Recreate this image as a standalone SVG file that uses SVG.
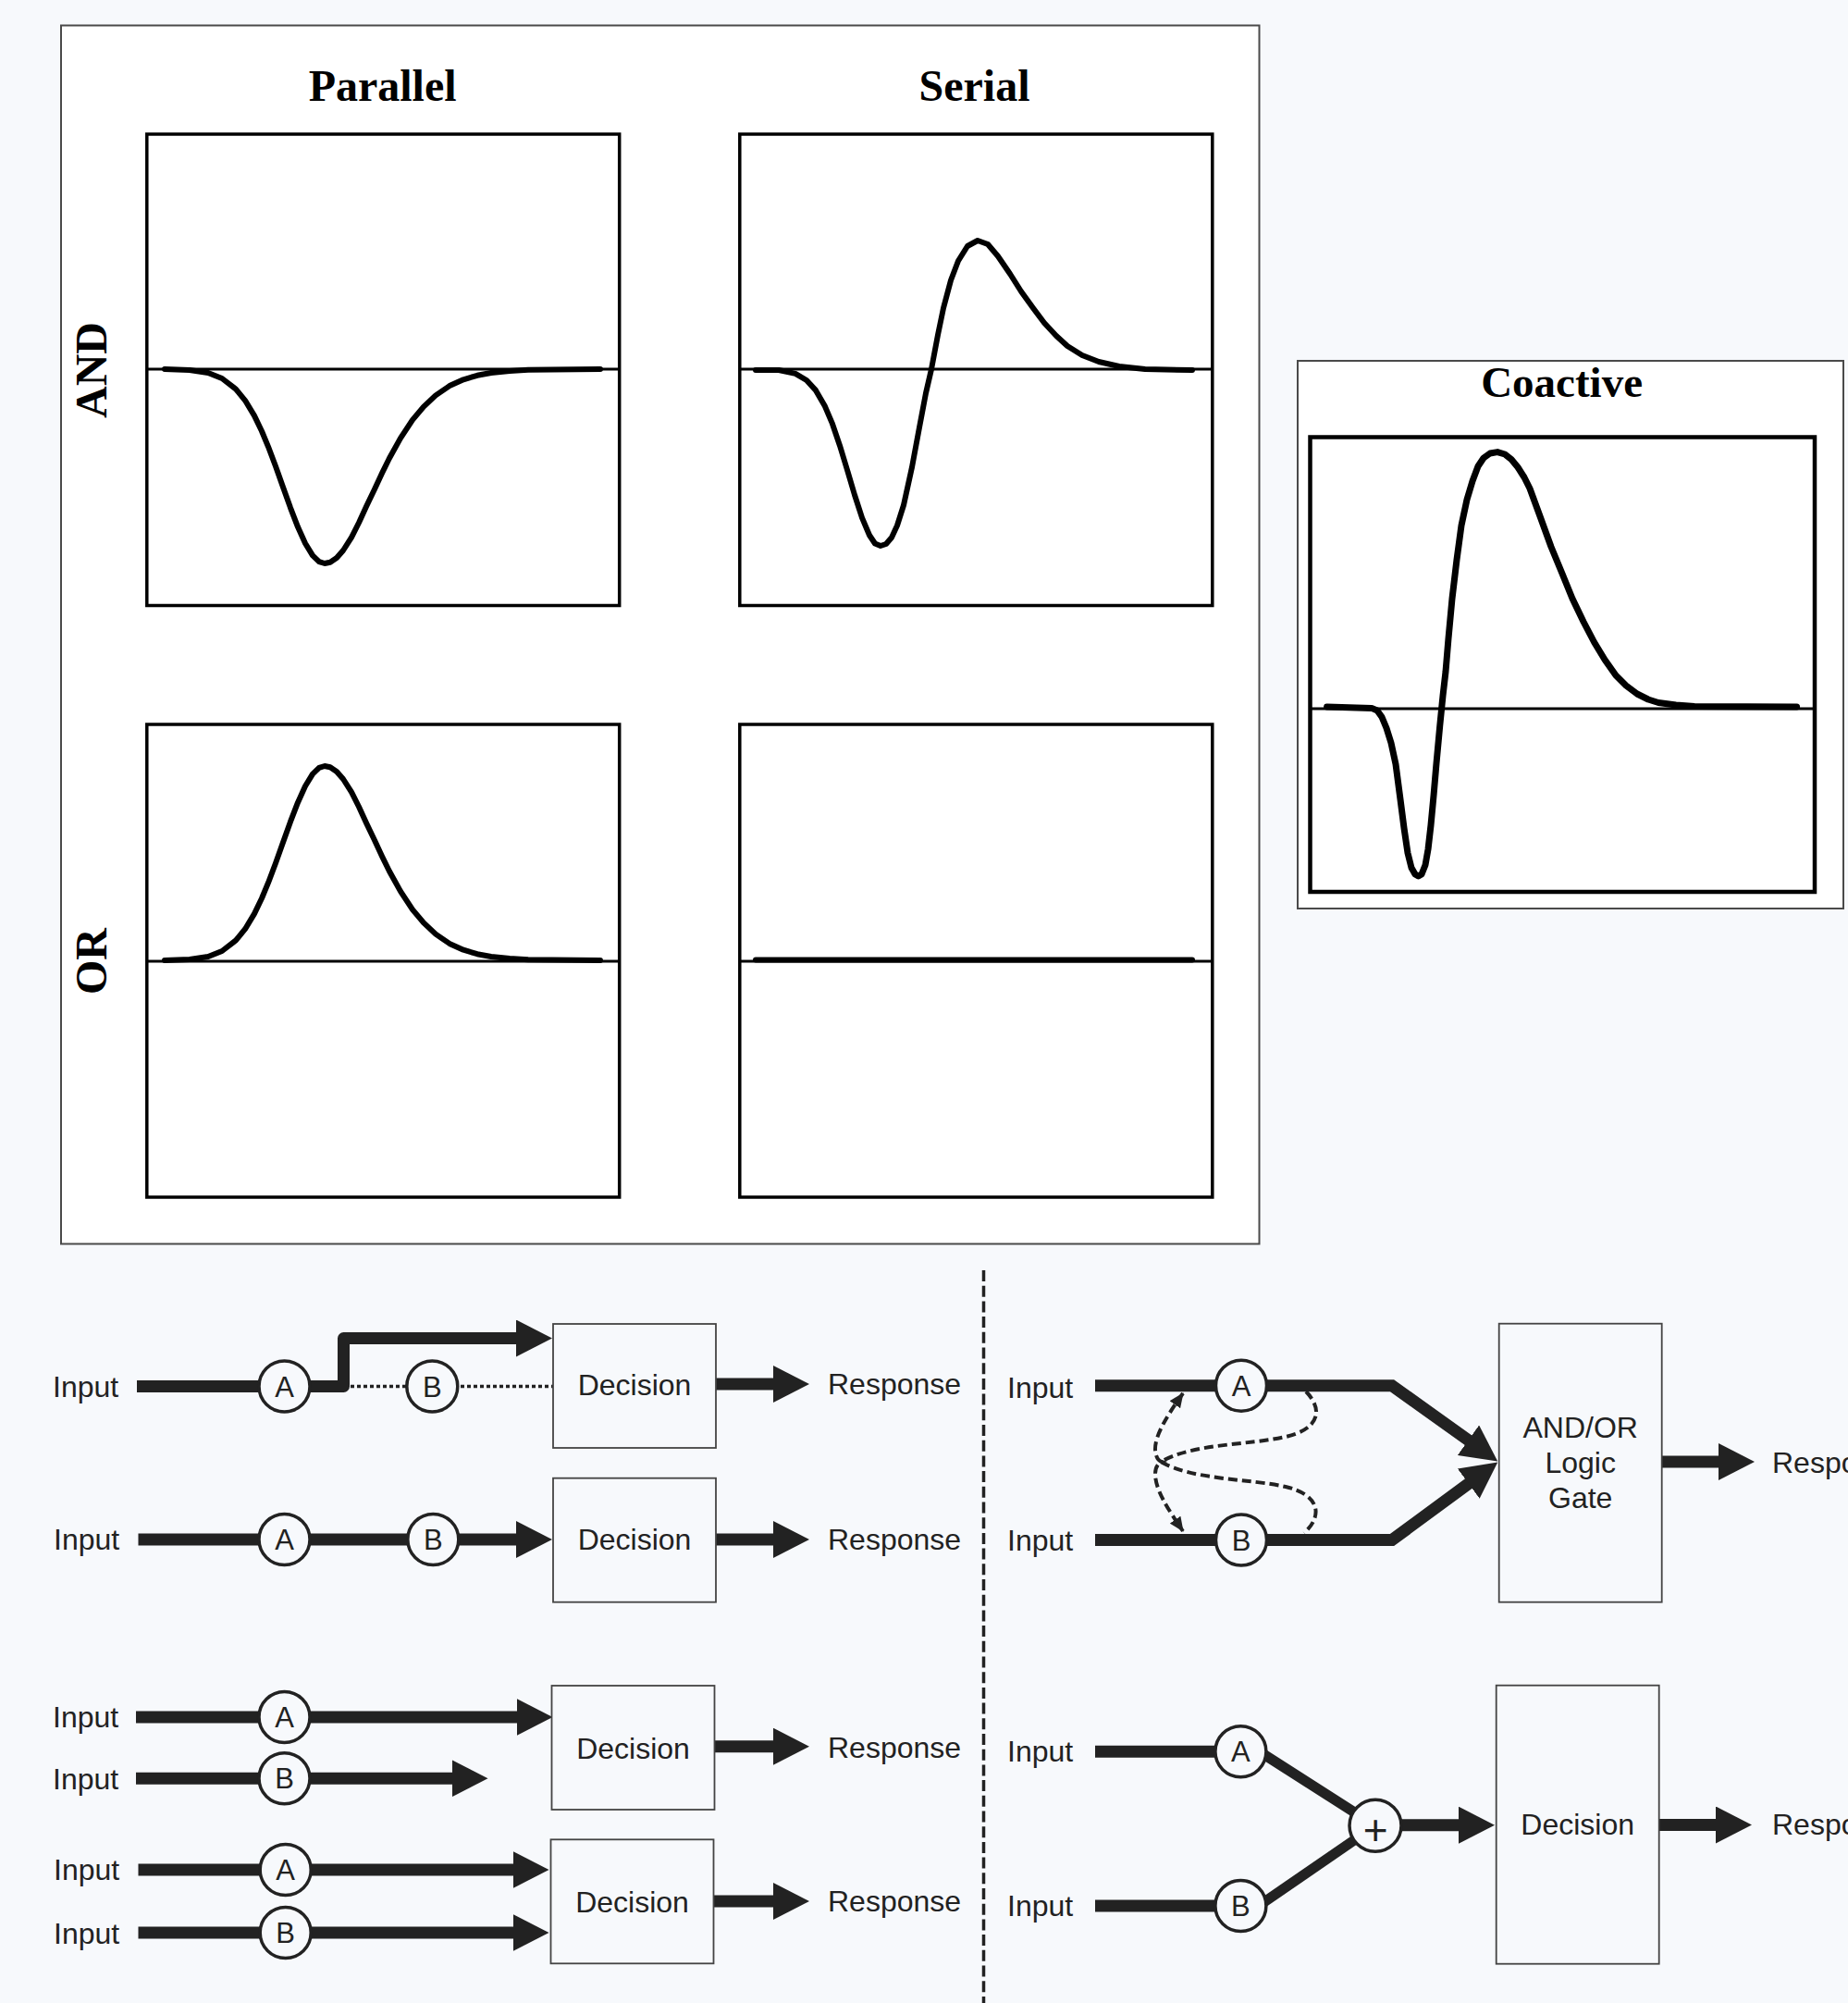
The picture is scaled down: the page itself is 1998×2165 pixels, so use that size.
<svg xmlns="http://www.w3.org/2000/svg" width="1998" height="2165" viewBox="0 0 1998 2165">
<style>
.bg{fill:#f7f9fc}
.frame{fill:#fff;stroke:#4a4a4a;stroke-width:2}
.plot{fill:#fff;stroke:#000;stroke-width:3.5}
.zero{stroke:#000;stroke-width:2.8;fill:none}
.curve{fill:none;stroke:#000;stroke-width:6;stroke-linejoin:round;stroke-linecap:round}
.ttl{font-family:"Liberation Serif","Times New Roman",serif;font-weight:bold;font-size:48px;fill:#000}
.thick{fill:none;stroke:#222;stroke-width:13}
.diag{fill:none;stroke:#222;stroke-width:11}
.dotted{fill:none;stroke:#222;stroke-width:3.5;stroke-dasharray:4 3}
.dash{fill:none;stroke:#222;stroke-width:4;stroke-dasharray:10 5}
.sep{fill:none;stroke:#222;stroke-width:3.5;stroke-dasharray:12 4.7}
.box{fill:#f7f9fc;stroke:#444;stroke-width:1.8}
.node{fill:#f7f9fc;stroke:#222;stroke-width:3.5}
.lbl{font-family:"Liberation Sans",Arial,sans-serif;font-size:32px;fill:#222}
.let{font-family:"Liberation Sans",Arial,sans-serif;font-size:31px;fill:#222;text-anchor:middle}
.mid{text-anchor:middle}
</style>
<defs>
<marker id="arrow" viewBox="0 0 39 40" refX="1" refY="20" markerWidth="39" markerHeight="40" markerUnits="userSpaceOnUse" orient="auto">
<path d="M0,0 L39,20 L0,40 Z" fill="#222"/>
</marker>
<marker id="small" viewBox="0 0 16 14" refX="15" refY="7" markerWidth="16" markerHeight="14" markerUnits="userSpaceOnUse" orient="auto-start-reverse">
<path d="M0,0 L16,7 L0,14 Z" fill="#222"/>
</marker>
<path id="gaussP" class="curve" d="M178,399 L205,400 L225,403 L240,409 L255,420.6 L265,432.8 L275,449.4 L283,466 L290,482.8 L298,504 L306,526.4 L314,548.8 L322,569.6 L330,587.3 L338,600.4 L345,607.1 L351,609 L357,607.7 L364,603 L371,595 L380,580.9 L388,565 L396,547.5 L405,528.7 L413,511.5 L421,495.2 L433,473.6 L446,453.9 L458,439.6 L471,427.4 L486,417.1 L501,410.3 L516,405.8 L531,403 L551,400.9 L571,399.7 L649,399"/>
</defs>
<rect x="0" y="0" width="1998" height="2165" class="bg"/>

<g id="panel-main">
<rect x="66" y="27.5" width="1295.5" height="1317" class="frame"/>
<text x="413.6" y="109" class="ttl mid">Parallel</text>
<text x="1053.5" y="109" class="ttl mid">Serial</text>
<text transform="translate(115,400) rotate(-90)" class="ttl mid">AND</text>
<text transform="translate(115,1039) rotate(-90)" class="ttl mid">OR</text>
</g>

<g id="plot-parallel-and">
<rect x="158.8" y="145" width="510.9" height="509.5" class="plot"/>
<line x1="158.8" y1="399" x2="669.7" y2="399" class="zero"/>
<use href="#gaussP"/>
</g>

<g id="plot-serial-and">
<rect x="799.8" y="145" width="511" height="509.5" class="plot"/>
<line x1="799.8" y1="399" x2="1310.8" y2="399" class="zero"/>
<path class="curve" d="M817,400 L842,400 L860,403.9 L872,411 L882,421.9 L892,439.3 L900,458.2 L908,481.7 L916,508 L924,535 L932,559.7 L940,578.5 L946,587.5 L952,590 L958,588 L964,581 L970,568 L977,546 L986,505 L994,462 L1001,425 L1007,399 L1014,362 L1020,333 L1028,303 L1036,282 L1046,266 L1057,260 L1068,264 L1079,277 L1092,296 L1104,315 L1117,333 L1129,349 L1142,363 L1154,374 L1170,384 L1188,391 L1210,396 L1238,399 L1289,400"/>
</g>

<g id="plot-parallel-or">
<rect x="158.8" y="783" width="510.9" height="511" class="plot"/>
<line x1="158.8" y1="1039" x2="669.7" y2="1039" class="zero"/>
<use href="#gaussP" transform="translate(0,1437) scale(1,-1)"/>
</g>

<g id="plot-serial-or">
<rect x="799.8" y="783" width="511" height="511" class="plot"/>
<line x1="799.8" y1="1039" x2="1310.8" y2="1039" class="zero"/>
<path class="curve" d="M817,1037.5 L1289,1037.5"/>
</g>

<g id="panel-coactive">
<rect x="1403" y="390" width="590" height="592" class="frame"/>
<text x="1688.6" y="428.5" class="ttl mid" style="font-size:47px">Coactive</text>
<rect x="1416.5" y="472.5" width="545.5" height="491.5" class="plot" style="stroke-width:4.5"/>
<line x1="1416.5" y1="766" x2="1962" y2="766" class="zero"/>
<path class="curve" style="stroke-width:7" d="M1434.6,764 L1483,765.4 L1489,768 L1494,775 L1499,787 L1504,803 L1509,826 L1514,864 L1518,895 L1522,922 L1526,938 L1530,945 L1533.5,947 L1537,945 L1541,935 L1544,918 L1547,892 L1550,860 L1553,825 L1556.7,785 L1560,752 L1563,726 L1566,690 L1570,647 L1575,605 L1580,568 L1586,540 L1592,520 L1598,504 L1604,495 L1611,490 L1619,488.6 L1627,491 L1634,496.5 L1641,505 L1648,516 L1654,528 L1665,558 L1677,591 L1689,620 L1700,647 L1712,672 L1723.5,694 L1735,713 L1747,730 L1758,741 L1770,750 L1782,756 L1793,759.5 L1812,762 L1832,763.4 L1942.6,764"/>
</g>

<g id="connectors">
<path class="sep" d="M1063.5,1373 V2165"/>
<path class="thick" style="stroke-linejoin:round" d="M148,1498.5 H371.5 V1446.5 H559" marker-end="url(#arrow)"/>
<path class="dotted" d="M379,1498.5 H598"/>
<path class="thick" d="M774,1496 H837" marker-end="url(#arrow)"/>
<path class="thick" d="M149.5,1664 H559" marker-end="url(#arrow)"/>
<path class="thick" d="M774,1664 H837" marker-end="url(#arrow)"/>
<path class="thick" d="M147,1856 H559.5" marker-end="url(#arrow)"/>
<path class="thick" d="M147,1922.3 H489.5" marker-end="url(#arrow)"/>
<path class="thick" d="M772.5,1887.7 H837" marker-end="url(#arrow)"/>
<path class="thick" d="M149.5,2021 H555.5" marker-end="url(#arrow)"/>
<path class="thick" d="M149.5,2089 H555.5" marker-end="url(#arrow)"/>
<path class="thick" d="M772,2055 H837" marker-end="url(#arrow)"/>
<path class="thick" d="M1184,1497.7 H1505 L1588.3,1557.3" marker-end="url(#arrow)"/>
<path class="thick" d="M1184,1664.5 H1505 L1588.6,1603.1" marker-end="url(#arrow)"/>
<path class="thick" d="M1797,1580 H1859" marker-end="url(#arrow)"/>
<path class="dash" d="M1279,1506 C1262,1530 1248,1552 1249,1568 C1250,1576 1253,1579 1256,1580 C1253,1581 1249,1585 1249,1593 C1249,1610 1262,1630 1279,1655" marker-start="url(#small)" marker-end="url(#small)"/>
<path class="dash" d="M1412,1504 C1432,1525 1425,1545 1390,1553 C1350,1562 1290,1560 1255,1580 C1290,1600 1350,1598 1390,1607 C1425,1615 1432,1637 1410,1657"/>
<path class="thick" d="M1184,1893.3 H1341"/>
<path class="thick" d="M1184,2060 H1341"/>
<path class="diag" d="M1355,1889 L1487,1973.3"/>
<path class="diag" d="M1355,2064 L1487,1973.3"/>
<path class="thick" d="M1515,1972.7 H1578" marker-end="url(#arrow)"/>
<path class="thick" d="M1793.7,1972.5 H1856" marker-end="url(#arrow)"/>
</g>

<g id="labels">
<text x="57" y="1510" class="lbl">Input</text>
<text x="58" y="1675" class="lbl">Input</text>
<text x="57" y="1867" class="lbl">Input</text>
<text x="57" y="1934" class="lbl">Input</text>
<text x="58" y="2032" class="lbl">Input</text>
<text x="58" y="2100.5" class="lbl">Input</text>
<text x="895" y="1507" class="lbl">Response</text>
<text x="895" y="1675" class="lbl">Response</text>
<text x="895" y="1899.5" class="lbl">Response</text>
<text x="895" y="2066" class="lbl">Response</text>
<text x="1089" y="1510.7" class="lbl">Input</text>
<text x="1089" y="1676" class="lbl">Input</text>
<text x="1089" y="1904" class="lbl">Input</text>
<text x="1089" y="2070.7" class="lbl">Input</text>
<text x="1916" y="1591.7" class="lbl">Response</text>
<text x="1916" y="1983" class="lbl">Response</text>
</g>

<g id="node-L1-A"><circle cx="307.5" cy="1498.5" r="27.5" class="node"/><text x="307.5" y="1509.5" class="let">A</text></g>
<g id="node-L1-B"><circle cx="467.3" cy="1498.5" r="27.5" class="node"/><text x="467.3" y="1509.5" class="let">B</text></g>
<g id="node-L1-dec"><rect x="598" y="1431" width="176" height="134" class="box"/><text x="686" y="1508" class="lbl mid">Decision</text></g>

<g id="node-L2-A"><circle cx="307.5" cy="1664" r="27.5" class="node"/><text x="307.5" y="1675" class="let">A</text></g>
<g id="node-L2-B"><circle cx="468.3" cy="1664" r="27.5" class="node"/><text x="468.3" y="1675" class="let">B</text></g>
<g id="node-L2-dec"><rect x="598" y="1597.7" width="176" height="134" class="box"/><text x="686" y="1675" class="lbl mid">Decision</text></g>

<g id="node-L3-A"><circle cx="307.5" cy="1856" r="27.5" class="node"/><text x="307.5" y="1867" class="let">A</text></g>
<g id="node-L3-B"><circle cx="307.5" cy="1922.3" r="27.5" class="node"/><text x="307.5" y="1933.3" class="let">B</text></g>
<g id="node-L3-dec"><rect x="596.5" y="1822" width="176" height="134" class="box"/><text x="684.5" y="1900.5" class="lbl mid">Decision</text></g>

<g id="node-L4-A"><circle cx="308.7" cy="2021" r="27.5" class="node"/><text x="308.7" y="2032" class="let">A</text></g>
<g id="node-L4-B"><circle cx="308.7" cy="2089" r="27.5" class="node"/><text x="308.7" y="2100" class="let">B</text></g>
<g id="node-L4-dec"><rect x="595.5" y="1988.3" width="176" height="134" class="box"/><text x="683.5" y="2066.5" class="lbl mid">Decision</text></g>

<g id="node-R1-A"><circle cx="1342" cy="1497.7" r="27.5" class="node"/><text x="1342" y="1508.7" class="let">A</text></g>
<g id="node-R1-B"><circle cx="1342" cy="1664.5" r="27.5" class="node"/><text x="1342" y="1675.5" class="let">B</text></g>
<g id="node-R1-gate"><rect x="1620.7" y="1430.7" width="176" height="301" class="box"/>
<text x="1708.7" y="1554" class="lbl mid">AND/OR</text>
<text x="1708.7" y="1591.7" class="lbl mid">Logic</text>
<text x="1708.7" y="1630" class="lbl mid">Gate</text></g>

<g id="node-R2-A"><circle cx="1341.4" cy="1893.3" r="27.5" class="node"/><text x="1341.4" y="1904.3" class="let">A</text></g>
<g id="node-R2-B"><circle cx="1341.4" cy="2060" r="27.5" class="node"/><text x="1341.4" y="2071" class="let">B</text></g>
<g id="node-R2-plus"><circle cx="1487" cy="1973.3" r="28" class="node"/><text x="1487.3" y="1994" class="let" style="font-size:46px">+</text></g>
<g id="node-R2-dec"><rect x="1617.7" y="1821.7" width="176" height="301" class="box"/><text x="1705.7" y="1983" class="lbl mid">Decision</text></g>
</svg>
